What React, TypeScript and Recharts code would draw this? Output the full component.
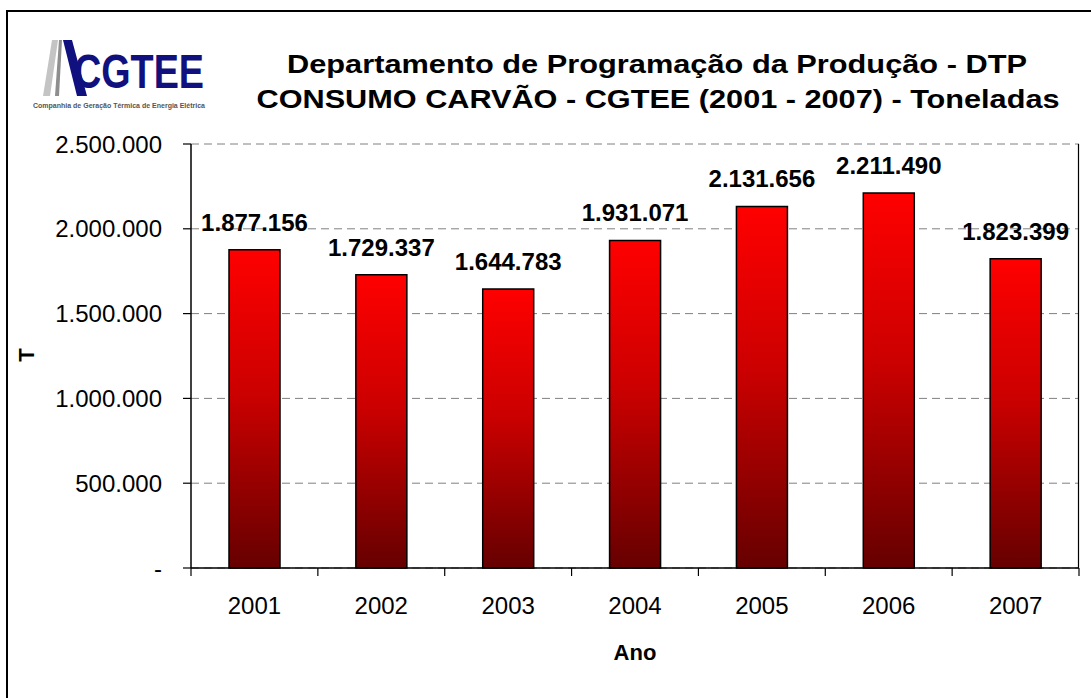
import React from "react";
import { BarChart, Bar, XAxis, YAxis, CartesianGrid, LabelList } from "recharts";

const anos = ["2001", "2002", "2003", "2004", "2005", "2006", "2007"];
const consumo = [1877156, 1729337, 1644783, 1931071, 2131656, 2211490, 1823399];
const yTicks = [0, 500000, 1000000, 1500000, 2000000, 2500000];

const FONT = '"Liberation Sans", Arial, sans-serif';

// chart frame: 1091 x 698, plot area set by the margins below
const W = 1091;
const H = 698;
const M = { top: 144, right: 12, left: 0, bottom: 10 };
const AXIS_X_H = 120;

const data = anos.map((ano, i) => ({ ano, consumo: consumo[i] }));

function fmt(v: number | string) {
  const n = Number(v);
  if (n === 0) return "-";
  return String(n).replace(/\B(?=(\d{3})+(?!\d))/g, ".");
}

function AnoTick(props: any) {
  const { x, y, payload, index, visibleTicksCount } = props;
  const half = payload && payload.offset != null ? payload.offset : 888 / 7 / 2;
  const axisY = y - 29;
  const last = index === visibleTicksCount - 1;
  return (
    <g>
      <line x1={x - half} x2={x - half} y1={axisY} y2={axisY + 8} stroke="#000" strokeWidth={1.2} />
      {last && <line x1={x + half} x2={x + half} y1={axisY} y2={axisY + 8} stroke="#000" strokeWidth={1.2} />}
      <text x={x} y={y} dy="0.71em" textAnchor="middle" fontSize={24} fill="#000" fontFamily={FONT}>
        {payload.value}
      </text>
    </g>
  );
}

function Logo() {
  return (
    <g>
      <polygon points="43,96 52,40 58,40 50,96" fill="#c4c4c4" />
      <polygon points="55,96 59,40 62,40 59,96" fill="#8e8e8e" />
      <polygon points="63,40 72,40 87,96 77,96" fill="#10107e" />
      <text x={74} y={88} fontSize={48} fontWeight="bold" fill="#10107e" fontFamily={FONT}
        textLength={130} lengthAdjust="spacingAndGlyphs">CGTEE</text>
      <text x={33} y={108} fontSize={8} fontWeight="bold" fill="#555" fontFamily={FONT}
        textLength={172} lengthAdjust="spacingAndGlyphs">Companhia de Geração Térmica de Energia Elétrica</text>
    </g>
  );
}

export default function App() {
  const plotRight = W - M.right;
  const plotBottom = H - M.bottom - AXIS_X_H;
  return (
    <div style={{ position: "absolute", left: 0, top: 0, width: W, height: H, background: "#fff", overflow: "hidden", fontFamily: FONT }}>
      <div style={{ position: "absolute", left: 6, top: 10, width: 1200, height: 800, border: "2px solid #000" }} />
      <div style={{ position: "absolute", left: 0, top: 0 }}>
        <BarChart width={W} height={H} data={data} margin={M}>
          <defs>
            <linearGradient id="barGrad" x1="0" y1="0" x2="0" y2="1">
              <stop offset="0" stopColor="#ff0000" />
              <stop offset="0.45" stopColor="#cc0000" />
              <stop offset="1" stopColor="#660000" />
            </linearGradient>
          </defs>
          <CartesianGrid vertical={false} stroke="#808080" strokeDasharray="8 5" />
          <XAxis
            dataKey="ano"
            height={AXIS_X_H}
            interval={0}
            tickLine={false}
            tickSize={8}
            tickMargin={21}
            axisLine={{ stroke: "#000", strokeWidth: 1.5 }}
            tick={<AnoTick />}
            label={{ value: "Ano", position: "insideBottom", offset: 28, fill: "#000", fontSize: 22, fontWeight: "bold", fontFamily: FONT }}
          />
          <YAxis
            width={191}
            domain={[0, 2500000]}
            ticks={yTicks}
            interval={0}
            tickFormatter={fmt}
            tickSize={8}
            tickMargin={21}
            tick={{ fill: "#000", fontSize: 24, fontFamily: FONT }}
            tickLine={{ stroke: "#000", strokeWidth: 1.2 }}
            axisLine={{ stroke: "#000", strokeWidth: 1.5 }}
          />
          <Bar dataKey="consumo" barSize={51} fill="url(#barGrad)" stroke="#000" strokeWidth={1.5} isAnimationActive={false}>
            <LabelList dataKey="consumo" position="top" offset={19} formatter={fmt}
              fill="#000" fontSize={24} fontWeight="bold" fontFamily={FONT} />
          </Bar>
        </BarChart>
      </div>
      <svg width={W} height={H} style={{ position: "absolute", left: 0, top: 0, pointerEvents: "none" }}>
        {/* right edge of the plot frame */}
        <line x1={plotRight - 0.5} x2={plotRight - 0.5} y1={M.top} y2={plotBottom} stroke="#000" strokeWidth={1.2} />
        <Logo />
        <text x={657} y={73} textAnchor="middle" fontSize={26} fontWeight="bold" fill="#000" fontFamily={FONT}
          textLength={740} lengthAdjust="spacingAndGlyphs">Departamento de Programação da Produção - DTP</text>
        <text x={658} y={108} textAnchor="middle" fontSize={26} fontWeight="bold" fill="#000" fontFamily={FONT}
          textLength={803} lengthAdjust="spacingAndGlyphs">CONSUMO CARVÃO - CGTEE (2001 - 2007) - Toneladas</text>
        <text x={0} y={0} transform="translate(34 355) rotate(-90)" textAnchor="middle" fontSize={22} fontWeight="bold"
          fill="#000" fontFamily={FONT}>T</text>
      </svg>
    </div>
  );
}
